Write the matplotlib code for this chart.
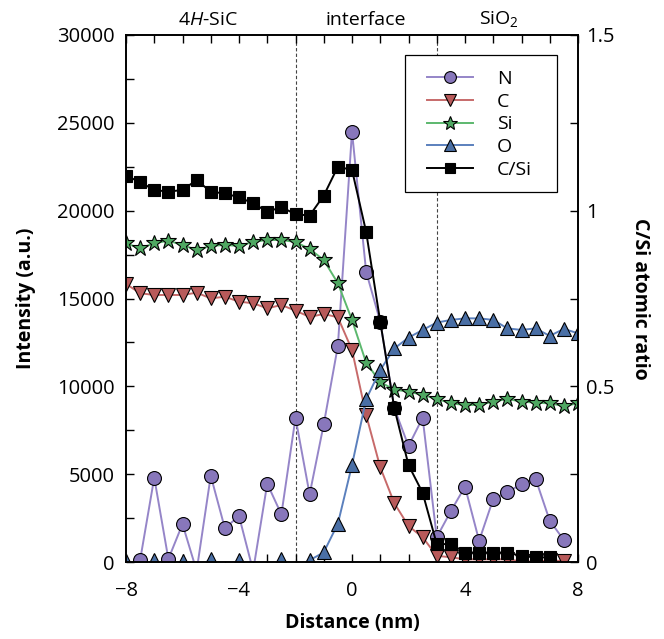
import numpy as np
import matplotlib
matplotlib.use("Agg")
import matplotlib.pyplot as plt
from matplotlib.ticker import MultipleLocator
from matplotlib.patches import Rectangle

plt.rcParams['font.family'] = ['Open Sans', 'DejaVu Sans']
plt.rcParams['mathtext.fontset'] = 'custom'
plt.rcParams['mathtext.rm'] = 'Open Sans'
plt.rcParams['mathtext.it'] = 'Open Sans:italic'

nan = float('nan')
distance = [-8, -7.5, -7, -6.5, -6, -5.5, -5, -4.5, -4, -3.5, -3, -2.5, -2, -1.5, -1, -0.5,
            0, 0.5, 1, 1.5, 2, 2.5, 3, 3.5, 4, 4.5, 5, 5.5, 6, 6.5, 7, 7.5, 8]

N = [-500, 110, 4800, 170, 2160, -500, 4910, 1920, 2620, -500, 4460, 2710, 8210, 3850, 7840, 12300,
     24500, 16530, 13680, 8750, 6600, 8210, 1410, 2900, 4290, 1210, 3590, 3970, 4440, 4730, 2350, 1250, nan]
C = [15830, 15300, 15200, 15200, 15200, 15330, 15010, 15100, 14820, 14730, 14440, 14630, 14310, 13950, 14120, 13930,
     12070, 8370, 5390, 3340, 2050, 1410, 350, 270, 150, 150, 150, 150, 30, 30, 100, 50, nan]
Si = [18140, 17860, 18140, 18290, 18050, 17760, 17990, 18050, 17990, 18220, 18330, 18330, 18220, 17820, 17190, 15870,
      13780, 11350, 10240, 9810, 9700, 9510, 9290, 9030, 8940, 8940, 9130, 9280, 9130, 9070, 9030, 8880, 9030]
O = [50, -400, 100, -400, 60, -400, 170, -400, 100, -400, -400, 170, -400, 100, 550, 2180,
     5520, 9260, 10930, 12160, 12770, 13210, 13630, 13780, 13870, 13870, 13780, 13300, 13210, 13300, 12870, 13270, 13020]
CSi = [1.100, 1.081, 1.059, 1.054, 1.059, 1.087, 1.054, 1.049, 1.038, 1.021, 0.997, 1.010, 0.990, 0.986, 1.043, 1.125,
       1.116, 0.940, 0.684, 0.437, 0.276, 0.197, 0.051, 0.051, 0.027, 0.027, 0.027, 0.027, 0.017, 0.013, 0.013, nan, nan]

region_labels = ["$\\it{4H}$-SiC", "interface", "SiO$_2$"]
region_pos = [-5.1, 0.5, 5.2]
boundaries = [-2, 3]

W, H = 664, 639
fig = plt.figure(figsize=(W / 100, H / 100), dpi=100)
AX_L, AX_R, AX_T, AX_B = 126, 578, 35, 562
ax = fig.add_axes([AX_L / W, 1 - AX_B / H, (AX_R - AX_L) / W, (AX_B - AX_T) / H])
ax2 = ax.twinx()

def px2ax(x, y):
    return (x - AX_L) / (AX_R - AX_L), (AX_B - y) / (AX_B - AX_T)

fs_tick = 14.5
fs = 14
lw = 1.4
mew = 0.8
styles = [
    ("N", N, 'o', '#8877bb', '#9585c8', 10),
    ("C", C, 'v', '#b85a5a', '#c76a6a', 10),
    ("Si", Si, '*', '#4fa862', '#5cb86e', 12),
    ("O", O, '^', '#4a6fa5', '#5b80bd', 10),
]
handles = []
for name, vals, mk, fc, lc, ms in styles:
    h, = ax.plot(distance, vals, color=lc, lw=lw, marker=mk, ms=ms, mfc=fc, mec='black', mew=mew, label=name)
    handles.append(h)
h, = ax2.plot(distance, CSi, color='black', lw=lw, marker='s', ms=9, mfc='black', mec='black', mew=mew, label='C/Si')
handles.append(h)

for b in boundaries:
    ax.axvline(b, color='#444444', lw=0.8, ls=(0, (3, 2)), zorder=1)

ax.set_xlim(-8, 8)
ax.set_ylim(0, 30000)
ax2.set_ylim(0, 1.5)

ax.xaxis.set_minor_locator(MultipleLocator(1))
ax.yaxis.set_minor_locator(MultipleLocator(2500))
ax2.yaxis.set_minor_locator(MultipleLocator(0.25))

ax.set_xticks([-8, -4, 0, 4, 8])
ax.set_xticklabels(['\u22128', '\u22124', '0', '4', '8'])
ax.set_yticks([0, 5000, 10000, 15000, 20000, 25000, 30000])
ax.set_yticklabels(['0', '5000', '10000', '15000', '20000', '25000', '30000'])
ax2.set_yticks([0, 0.5, 1, 1.5])
ax2.set_yticklabels(['0', '0.5', '1', '1.5'])

ax.tick_params(axis='both', which='both', direction='in', top=True, right=False, labelsize=fs_tick,
               length=6, width=1)
ax.tick_params(axis='x', pad=14)
ax.tick_params(axis='y', pad=8)
ax2.tick_params(axis='y', which='both', direction='in', labelsize=fs_tick, length=6, width=1, pad=6)
for a in (ax, ax2):
    for s in a.spines.values():
        s.set_linewidth(1.2)

ax.set_xlabel('Distance (nm)', fontsize=fs, fontweight='bold', labelpad=8)
ax.set_ylabel('Intensity (a.u.)', fontsize=fs, fontweight='bold', labelpad=15)
ax2.set_ylabel('C/Si atomic ratio', fontsize=fs, fontweight='bold', rotation=270, labelpad=25)

for lab, xp in zip(region_labels, region_pos):
    ax.text(xp, 30350, lab, ha='center', va='bottom', fontsize=fs)

# legend frame
x0, y0 = px2ax(405, 192)
x1, y1 = px2ax(557, 55)
ax2.add_patch(Rectangle((x0, y0), x1 - x0, y1 - y0, transform=ax2.transAxes, facecolor='white',
                        edgecolor='black', lw=0.9, zorder=4, clip_on=False))
ax_, ay_ = px2ax(427, 70)
leg = ax2.legend(handles=handles, loc='upper left', bbox_to_anchor=(ax_, ay_),
                 fontsize=fs, frameon=False, handlelength=2.35, labelspacing=0.24, borderpad=0,
                 handletextpad=1.25, borderaxespad=0, markerscale=0.85)
leg.set_zorder(5)

fig.savefig('out.png', dpi=100)
